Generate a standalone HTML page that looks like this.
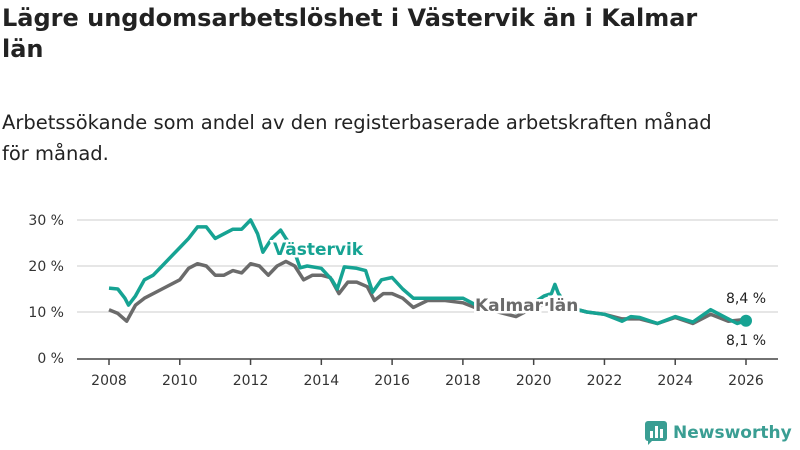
<!DOCTYPE html>
<html><head><meta charset="utf-8"><style>
body{margin:0;width:800px;height:450px;background:#fff;font-family:"DejaVu Sans","Liberation Sans",sans-serif;overflow:hidden;position:relative}
h1{position:absolute;left:2px;top:3px;margin:0;font-size:24px;line-height:31px;font-weight:bold;color:#222;width:700px}
p.sub{position:absolute;left:2px;top:107px;margin:0;font-size:19.5px;line-height:31px;color:#222;width:735px}
svg{position:absolute;left:0;top:0}
.logo{position:absolute;left:644px;top:420px;display:flex;align-items:center;gap:5px;color:#3a9e93;font-weight:bold;font-size:17px;white-space:nowrap;width:156px}
</style></head><body>
<h1>Lägre ungdomsarbetslöshet i Västervik än i Kalmar län</h1>
<p class="sub">Arbetssökande som andel av den registerbaserade arbetskraften månad för månad.</p>
<svg id="chart" width="800" height="450"></svg>
<div class="logo"><svg style="position:static" width="24" height="26" viewBox="0 0 24 26"><rect x="1" y="1" width="22" height="20" rx="3" fill="#3a9e93"/><path d="M4 20 L4 25 L9 20Z" fill="#3a9e93"/><rect x="6" y="11" width="3" height="7" fill="#fff"/><rect x="11" y="6" width="3" height="12" fill="#fff"/><rect x="16" y="9" width="3" height="9" fill="#fff"/></svg><span>Newsworthy</span></div>
<script>
const yearsV=[2008,2008.25,2008.45,2008.55,2008.75,2009,2009.25,2009.5,2009.75,2010,2010.25,2010.5,2010.75,2011,2011.25,2011.5,2011.75,2012,2012.2,2012.35,2012.6,2012.85,2013,2013.2,2013.4,2013.6,2014,2014.3,2014.45,2014.65,2015,2015.25,2015.45,2015.7,2016,2016.3,2016.6,2017,2017.5,2018,2018.5,2019,2019.5,2020,2020.3,2020.5,2020.6,2020.7,2021,2021.5,2022,2022.5,2022.75,2023,2023.5,2024,2024.5,2025,2025.5,2025.75,2026];
const valsV=[15.2,15,13,11.5,13.5,17,18,20,22,24,26,28.5,28.5,26,27,28,28,30,27,23,26,27.8,26,24,19.6,20,19.5,17,15,19.8,19.5,19,14.3,17,17.5,15,13,13,13,13,11,11,10,12,13.5,14,16,14,11,10,9.5,8,9,8.8,7.5,9,7.8,10.5,8.5,7.5,8.1];
const yearsK=[2008,2008.25,2008.5,2008.75,2009,2009.5,2010,2010.25,2010.5,2010.75,2011,2011.25,2011.5,2011.75,2012,2012.25,2012.5,2012.75,2013,2013.25,2013.5,2013.75,2014,2014.25,2014.5,2014.75,2015,2015.3,2015.5,2015.75,2016,2016.3,2016.6,2017,2017.5,2018,2018.5,2019,2019.5,2020,2020.5,2021,2021.5,2022,2022.5,2023,2023.5,2024,2024.5,2025,2025.5,2026];
const valsK=[10.5,9.7,8,11.5,13,15,17,19.5,20.5,20,18,18,19,18.5,20.5,20,18,20,21,20,17,18,18,17.5,14,16.5,16.5,15.5,12.5,14,14,13,11,12.5,12.5,12,10.5,10,9,11,12,11,10,9.5,8.5,8.5,7.5,8.8,7.5,9.5,8,8.4];
const xTicks=[2008,2010,2012,2014,2016,2018,2020,2022,2024,2026];
const yTicks=[0,10,20,30];
const X=y=>109+(y-2008)*(746-109)/18, Y=v=>358-v*4.6;
const NS="http://www.w3.org/2000/svg", svg=document.getElementById('chart');
function mk(t,a){const e=document.createElementNS(NS,t);for(const k in a)e.setAttribute(k,a[k]);svg.appendChild(e);return e;}
yTicks.forEach(v=>{
 if(v>0){const l=mk('line',{x1:77,x2:778,y1:Y(v),y2:Y(v),stroke:'#ddd','stroke-width':1.5});
 
 }
 const t=mk('text',{x:64,y:Y(v)+5,'text-anchor':'end','font-size':14,fill:'#333'});t.textContent=v+' %';
 
 
});
const ax=mk('line',{x1:77,x2:778,y1:Y(0)+1,y2:Y(0)+1,stroke:'#444','stroke-width':1.5});


xTicks.forEach(v=>{
 mk('line',{x1:X(v),x2:X(v),y1:Y(0)+1,y2:Y(0)+7,stroke:'#444','stroke-width':1.5});
 const t=mk('text',{x:X(v),y:Y(0)+27,'text-anchor':'middle','font-size':14,fill:'#333'});t.textContent=v;
 
 
});
function line(xs,vs,c,name){const p=mk('path',{d:xs.map((x,i)=>(i?'L':'M')+X(x).toFixed(1)+','+Y(vs[i]).toFixed(1)).join(''),fill:'none',stroke:c,'stroke-width':3.5,'stroke-linejoin':'round'});
 
 }
line(yearsK,valsK,'#6b6b6b','kalmar-line');
line(yearsV,valsV,'#16a393','vastervik-line');
const dot=mk('circle',{cx:X(2026),cy:Y(valsV[valsV.length-1]),r:6,fill:'#16a393'});


function lab(x,y,s,c,name,anchor){const t=mk('text',{x,y,'font-size':17,'font-weight':'bold',fill:c,stroke:'#fff','stroke-width':5,'paint-order':'stroke','text-anchor':anchor||'start'});t.textContent=s;
 
 }
lab(273,255,'Västervik','#16a393','vastervik-label');
lab(475,311,'Kalmar län','#6b6b6b','kalmar-label');
function val(x,y,s,name){const t=mk('text',{x,y,'font-size':14,fill:'#222',stroke:'#fff','stroke-width':4,'paint-order':'stroke','text-anchor':'middle'});t.textContent=s;
 
 }
val(746,303,'8,4 %','kalmar-end-value');
val(746,345,'8,1 %','vastervik-end-value');
</script>
</body></html>
